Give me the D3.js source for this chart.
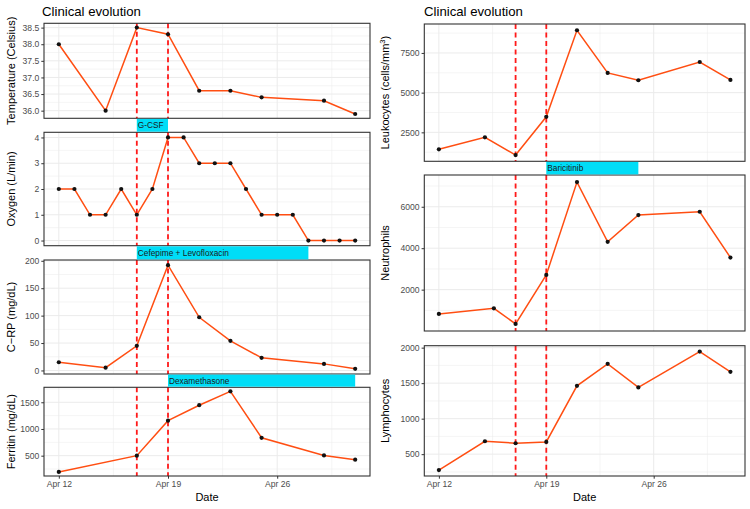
<!DOCTYPE html>
<html><head><meta charset="utf-8">
<script src="https://cdn.jsdelivr.net/npm/d3@7"></script>
<style>
html,body{margin:0;padding:0;background:#fff;}
text{font-family:"Liberation Sans",Arial,Helvetica,sans-serif;}
</style></head>
<body><svg id="c" width="750" height="509"></svg>
<script>
// ---------- DATA ----------
const tempDates = ["2020-04-12","2020-04-15","2020-04-17","2020-04-19","2020-04-21","2020-04-23","2020-04-25","2020-04-29","2020-05-01"];
const tempValues = [38.0,36.0,38.5,38.3,36.6,36.6,36.4,36.3,35.9];
const oxygenDates = ["2020-04-12","2020-04-13","2020-04-14","2020-04-15","2020-04-16","2020-04-17","2020-04-18","2020-04-19","2020-04-20","2020-04-21","2020-04-22","2020-04-23","2020-04-24","2020-04-25","2020-04-26","2020-04-27","2020-04-28","2020-04-29","2020-04-30","2020-05-01"];
const oxygenValues = [2,2,1,1,2,1,2,4,4,3,3,3,2,1,1,1,0,0,0,0];
const crpDates = ["2020-04-12","2020-04-15","2020-04-17","2020-04-19","2020-04-21","2020-04-23","2020-04-25","2020-04-29","2020-05-01"];
const crpValues = [15,5,45,192,97,54,23,12,3];
const ferritinDates = ["2020-04-12","2020-04-17","2020-04-19","2020-04-21","2020-04-23","2020-04-25","2020-04-29","2020-05-01"];
const ferritinValues = [195,500,1155,1445,1705,835,505,425];
const labDates = ["2020-04-12","2020-04-15","2020-04-17","2020-04-19","2020-04-21","2020-04-23","2020-04-25","2020-04-29","2020-05-01"];
const leukocyteValues = [1430,2185,1070,3480,8930,6240,5780,6930,5800];
const neutrophilDates = ["2020-04-12","2020-04-15T14:00","2020-04-17","2020-04-19","2020-04-21","2020-04-23","2020-04-25","2020-04-29","2020-05-01"];
const neutrophilValues = [830,1100,347,2710,7190,4310,5600,5760,3550];
const lymphocyteValues = [276,682,654,672,1463,1772,1440,1944,1660];

const eventDates = ["2020-04-17","2020-04-19"];
const xTickDates = ["2020-04-12","2020-04-19","2020-04-26"];
const dateRange = ["2020-04-12","2020-05-01"];

const tempTicks = [36.0,36.5,37.0,37.5,38.0,38.5];
const oxygenTicks = [0,1,2,3,4];
const crpTicks = [0,50,100,150,200];
const ferritinTicks = [500,1000,1500];
const leukocyteTicks = [2500,5000,7500];
const neutrophilTicks = [2000,4000,6000];
const lymphocyteTicks = [500,1000,1500,2000];

const treatmentLabels = ["G-CSF","Cefepime + Levofloxacin","Dexamethasone","Baricitinib"];
const treatmentStarts = ["2020-04-17","2020-04-17","2020-04-19","2020-04-19"];
const treatmentEnds = ["2020-04-19","2020-04-28","2020-05-01","2020-04-25"];

// ---------- LAYOUT ----------
const P = d => new Date(d + (d.length===10 ? "T00:00:00Z" : ":00Z"));
const svg = d3.select("#c");
const lineColor = "#FF4E12", barColor = "#00DDF7";
const tickFmt1 = d3.format(".1f"), tickFmt0 = d3.format("d");

const columns = [
  {x0:44, x1:370, titleX:42, ylabX:14.5, panels:[
    {t:23.3,b:118.3,dates:tempDates,vals:tempValues,ticks:tempTicks,fmt:tickFmt1,label:"Temperature (Celsius)"},
    {t:132.3,b:245.7,dates:oxygenDates,vals:oxygenValues,ticks:oxygenTicks,fmt:tickFmt0,label:"Oxygen (L/min)"},
    {t:260,b:374,dates:crpDates,vals:crpValues,ticks:crpTicks,fmt:tickFmt0,label:"C\u2212RP (mg/dL)"},
    {t:387.3,b:476,dates:ferritinDates,vals:ferritinValues,ticks:ferritinTicks,fmt:tickFmt0,label:"Ferritin (mg/dL)"}
  ], bars:[0,1,2]},
  {x0:424.3, x1:745, titleX:424, ylabX:389, panels:[
    {t:24,b:161.3,dates:labDates,vals:leukocyteValues,ticks:leukocyteTicks,fmt:tickFmt0,label:"Leukocytes (cells/mm",sup:"3",after:")"},
    {t:175,b:331,dates:neutrophilDates,vals:neutrophilValues,ticks:neutrophilTicks,fmt:tickFmt0,label:"Neutrophils"},
    {t:345.7,b:476,dates:labDates,vals:lymphocyteValues,ticks:lymphocyteTicks,fmt:tickFmt0,label:"Lymphocytes"}
  ], bars:[3]}
];

columns.forEach(col => {
  const d0 = P(dateRange[0]), d1 = P(dateRange[1]);
  const span = d1 - d0;
  const x = d3.scaleUtc().domain([new Date(+d0 - span*0.05), new Date(+d1 + span*0.05)]).range([col.x0, col.x1]);
  const majorX = xTickDates.map(P);
  const stepX = majorX[1]-majorX[0];
  const minorX = [];
  for (let t = +majorX[0]-stepX/2; t <= +x.domain()[1]; t += stepX) if (t >= +x.domain()[0]) minorX.push(new Date(t));

  svg.append("text").attr("x", col.titleX).attr("y", 15.5).attr("font-size", 13.2).attr("fill","#000").text("Clinical evolution");

  col.panels.forEach((p, i) => {
    const vals = p.vals;
    const lo = d3.min(vals), hi = d3.max(vals), r = hi - lo;
    const y = d3.scaleLinear().domain([lo - r*0.05, hi + r*0.05]).range([p.b, p.t]);
    const g = svg.append("g");
    g.append("rect").attr("x", col.x0).attr("y", p.t).attr("width", col.x1-col.x0).attr("height", p.b-p.t).attr("fill","#fff");
    // minor y
    const stepY = p.ticks[1]-p.ticks[0];
    const dom = y.domain();
    const minorY = [];
    for (let v = p.ticks[0]-stepY/2; v <= dom[1]; v += stepY) if (v >= dom[0]) minorY.push(v);
    g.selectAll(".mny").data(minorY).join("line").attr("x1",col.x0).attr("x2",col.x1).attr("y1",d=>y(d)).attr("y2",d=>y(d)).attr("stroke","#EBEBEB").attr("stroke-width",0.5);
    g.selectAll(".mnx").data(minorX).join("line").attr("y1",p.t).attr("y2",p.b).attr("x1",d=>x(d)).attr("x2",d=>x(d)).attr("stroke","#EBEBEB").attr("stroke-width",0.5);
    g.selectAll(".mjy").data(p.ticks).join("line").attr("x1",col.x0).attr("x2",col.x1).attr("y1",d=>y(d)).attr("y2",d=>y(d)).attr("stroke","#EBEBEB").attr("stroke-width",1);
    g.selectAll(".mjx").data(majorX).join("line").attr("y1",p.t).attr("y2",p.b).attr("x1",d=>x(d)).attr("x2",d=>x(d)).attr("stroke","#EBEBEB").attr("stroke-width",1);
    // event lines
    g.selectAll(".ev").data(eventDates.map(P)).join("line").attr("y1",p.t).attr("y2",p.b).attr("x1",d=>x(d)).attr("x2",d=>x(d))
      .attr("stroke","#FF1A1A").attr("stroke-width",1.8).attr("stroke-dasharray","5,3.5");
    // data line
    const pts = p.dates.map((d,k)=>({d:P(d), v:vals[k]}));
    g.append("path").datum(pts).attr("d", d3.line().x(d=>x(d.d)).y(d=>y(d.v))).attr("fill","none").attr("stroke",lineColor).attr("stroke-width",1.5);
    g.selectAll(".pt").data(pts).join("circle").attr("cx",d=>x(d.d)).attr("cy",d=>y(d.v)).attr("r",2.1).attr("fill","#111");
    // frame
    g.append("rect").attr("x", col.x0).attr("y", p.t).attr("width", col.x1-col.x0).attr("height", p.b-p.t).attr("fill","none").attr("stroke","#333").attr("stroke-width",1.1);
    // y axis
    const ya = d3.axisLeft(y).tickValues(p.ticks).tickFormat(p.fmt).tickSize(2.7).tickPadding(2);
    const ag = g.append("g").attr("transform",`translate(${col.x0},0)`).call(ya);
    ag.select(".domain").remove();
    ag.selectAll("line").attr("stroke","#333");
    ag.selectAll("text").attr("fill","#4D4D4D").attr("font-size",8.6).attr("font-family","Liberation Sans, Arial, sans-serif");
    // y title
    const cy = (p.t+p.b)/2;
    const tt = g.append("text").attr("transform",`translate(${col.ylabX},${cy}) rotate(-90)`).attr("text-anchor","middle").attr("font-size",11).attr("fill","#000").text(p.label);
    if (p.sup) { tt.append("tspan").attr("dy",-4).attr("font-size",7.5).text(p.sup); tt.append("tspan").attr("dy",4).text(p.after); }
    // x axis only on last panel
    if (i === col.panels.length-1) {
      const xa = d3.axisBottom(x).tickValues(majorX).tickFormat(d3.utcFormat("%b %d")).tickSize(2.7).tickPadding(2);
      const xg = g.append("g").attr("transform",`translate(0,${p.b})`).call(xa);
      xg.select(".domain").remove();
      xg.selectAll("line").attr("stroke","#333");
      xg.selectAll("text").attr("fill","#4D4D4D").attr("font-size",8.6).attr("font-family","Liberation Sans, Arial, sans-serif");
      g.append("text").attr("x",(col.x0+col.x1)/2).attr("y",501).attr("text-anchor","middle").attr("font-size",11).attr("fill","#000").text("Date");
    }
    p.y = y;
  });

  // treatment bars in gaps
  col.bars.forEach((bi, k) => {
    const above = col.panels[k], below = col.panels[k+1];
    const x0 = x(P(treatmentStarts[bi])), x1 = x(P(treatmentEnds[bi]));
    const top = above.b + 0.6, bot = below.t - 0.6;
    svg.append("rect").attr("x",x0).attr("y",top).attr("width",x1-x0).attr("height",bot-top).attr("fill",barColor);
    svg.append("text").attr("x",x0+1).attr("y",(top+bot)/2+3).attr("font-size",8.3).attr("fill","#1a1a1a").text(treatmentLabels[bi]);
  });
});
</script></body></html>
